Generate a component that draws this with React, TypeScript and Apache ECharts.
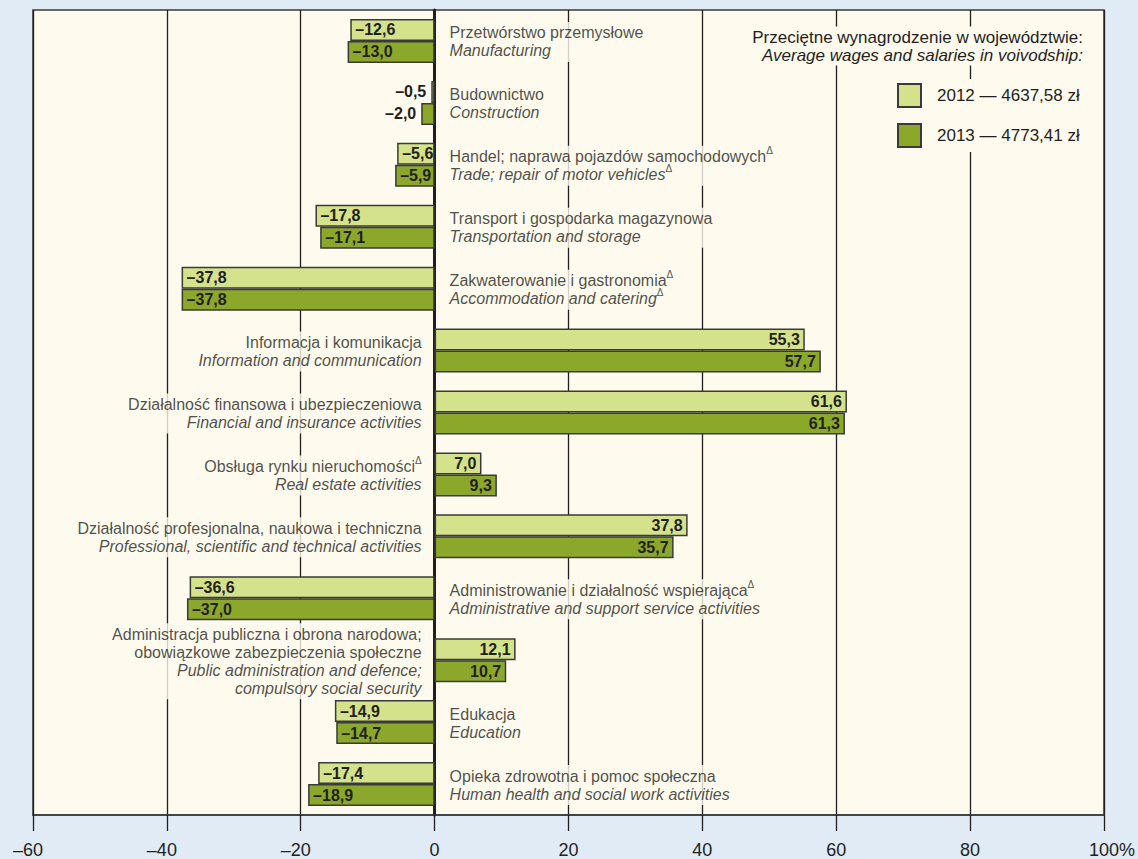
import React, { useEffect, useRef } from "react";
import * as echarts from "echarts";

const seriesNames = ["2012", "2013"];
const avgWages = ["4637,58", "4773,41"];

const labelsPL = [
  "Przetwórstwo przemysłowe",
  "Budownictwo",
  "Handel; naprawa pojazdów samochodowych^",
  "Transport i gospodarka magazynowa",
  "Zakwaterowanie i gastronomia^",
  "Informacja i komunikacja",
  "Działalność finansowa i ubezpieczeniowa",
  "Obsługa rynku nieruchomości^",
  "Działalność profesjonalna, naukowa i techniczna",
  "Administrowanie i działalność wspierająca^",
  "Administracja publiczna i obrona narodowa;\nobowiązkowe zabezpieczenia społeczne",
  "Edukacja",
  "Opieka zdrowotna i pomoc społeczna",
];

const labelsEN = [
  "Manufacturing",
  "Construction",
  "Trade; repair of motor vehicles^",
  "Transportation and storage",
  "Accommodation and catering^",
  "Information and communication",
  "Financial and insurance activities",
  "Real estate activities",
  "Professional, scientific and technical activities",
  "Administrative and support service activities",
  "Public administration and defence;\ncompulsory social security",
  "Education",
  "Human health and social work activities",
];

const values2012 = [-12.6, -0.5, -5.6, -17.8, -37.8, 55.3, 61.6, 7.0, 37.8, -36.6, 12.1, -14.9, -17.4];
const values2013 = [-13.0, -2.0, -5.9, -17.1, -37.8, 57.7, 61.3, 9.3, 35.7, -37.0, 10.7, -14.7, -18.9];

const FONT = "Liberation Sans, Arial, sans-serif";
const TEXT = "#231f20";
const PLOT_BG = "#fefaee";
const OUTER_BG = "#e0ebf6";
const LIGHT = "#d4e38b";
const DARK = "#8ba82b";
const BORDER = "#3a3a3a";

function toRich(s: string, style: string): string {
  return s
    .split("\n")
    .map((line) => {
      const sup = line.endsWith("^");
      const t = sup ? line.slice(0, -1) : line;
      return `{${style}|${t}}` + (sup ? "{sup|Δ}" : "");
    })
    .join("\n");
}

function fmt(v: number): string {
  const s = Math.abs(v).toFixed(1).replace(".", ",");
  return v < 0 ? "–" + s : s;
}

function barData(vals: number[]) {
  return vals.map((v) => ({
    value: v,
    label: {
      position: v < 0 ? (Math.abs(v) < 4 ? "left" : "insideLeft") : "insideRight",
    },
  }));
}

export default function App() {
  const ref = useRef<HTMLDivElement>(null);

  useEffect(() => {
    if (!ref.current) return;
    const chart = echarts.init(ref.current, undefined, { renderer: "svg" });

    const barLabel = {
      show: true,
      formatter: (p: any) => fmt(p.value),
      fontFamily: FONT,
      fontWeight: "bold",
      fontSize: 16,
      color: TEXT,
      distance: 5,
    };

    const axisRich = { fontSize: 18, color: TEXT, fontFamily: FONT };

    const option: any = {
      animation: false,
      backgroundColor: OUTER_BG,
      textStyle: { fontFamily: FONT, color: TEXT },
      title: {
        text:
          "{a|Przeciętne wynagrodzenie w województwie:}\n{b|Average wages and salaries in voivodship:}",
        right: 52,
        top: 26,
        padding: [2, 3],
        backgroundColor: PLOT_BG,
        textStyle: {
          fontWeight: "normal",
          rich: {
            a: { fontSize: 17, lineHeight: 18, align: "right", color: TEXT, fontWeight: "normal", fontFamily: FONT },
            b: { fontSize: 17, lineHeight: 18, align: "right", color: TEXT, fontWeight: "normal", fontStyle: "italic", fontFamily: FONT },
          },
        },
      },
      legend: {
        data: seriesNames,
        orient: "vertical",
        left: 893,
        top: 79,
        padding: 4,
        backgroundColor: PLOT_BG,
        itemWidth: 23,
        itemHeight: 23,
        itemGap: 15,
        icon: "rect",
        selectedMode: false,
        formatter: (name: string) => {
          const i = seriesNames.indexOf(name);
          return `${name} — ${avgWages[i]} zł`;
        },
        textStyle: { fontSize: 17, color: TEXT, fontFamily: FONT, padding: [0, 0, 0, 11] },
      },
      grid: {
        left: 33,
        right: 33,
        top: 10,
        bottom: 43,
        show: true,
        backgroundColor: PLOT_BG,
        borderColor: BORDER,
        borderWidth: 1.5,
        containLabel: false,
      },
      xAxis: {
        type: "value",
        min: -60,
        max: 100,
        interval: 20,
        axisLine: { show: true, onZero: false, lineStyle: { color: BORDER, width: 1.5 } },
        axisTick: { show: true, inside: false, length: 16, lineStyle: { color: TEXT, width: 1.3 } },
        axisLabel: {
          margin: 26,
          color: TEXT,
          fontFamily: FONT,
          fontSize: 18,
          formatter: (v: number) =>
            v === 100 ? "{pct|100%}" : v < 0 ? "{neg|–" + Math.abs(v) + "}" : "{num|" + v + "}",
          rich: {
            num: { ...axisRich },
            neg: { ...axisRich, padding: [0, 10, 0, 0] },
            pct: { ...axisRich, padding: [0, 0, 0, 16] },
          },
        },
        splitLine: { show: true, lineStyle: { color: TEXT, width: 1.3 } },
      },
      yAxis: {
        type: "category",
        inverse: true,
        data: labelsPL,
        axisLine: { show: true, onZero: true, lineStyle: { color: TEXT, width: 3 } },
        axisTick: { show: false },
        axisLabel: { show: false },
        splitLine: { show: false },
      },
      series: [
        {
          name: seriesNames[0],
          type: "bar",
          data: barData(values2012),
          barWidth: 22,
          barGap: "0%",
          itemStyle: { color: LIGHT, borderColor: BORDER, borderWidth: 1.5 },
          label: barLabel,
        },
        {
          name: seriesNames[1],
          type: "bar",
          data: barData(values2013),
          barWidth: 22,
          barGap: "0%",
          itemStyle: { color: DARK, borderColor: BORDER, borderWidth: 1.5 },
          label: barLabel,
        },
        {
          name: "labels",
          type: "scatter",
          silent: true,
          symbolSize: 0,
          z: 5,
          data: labelsPL.map((_, i) => ({
            value: [0, i],
            label: {
              position: values2012[i] < 0 ? "right" : "left",
              distance: values2012[i] < 0 ? 12 : 10,
            },
          })),
          label: {
            show: true,
            backgroundColor: PLOT_BG,
            padding: [2, 3],
            offset: [0, 1],
            color: TEXT,
            formatter: (p: any) =>
              toRich(labelsPL[p.dataIndex], "pl") + "\n" + toRich(labelsEN[p.dataIndex], "en"),
            rich: {
              pl: { fontSize: 16, lineHeight: 18, color: TEXT, fontFamily: FONT },
              en: { fontSize: 16, lineHeight: 18, color: TEXT, fontStyle: "italic", fontFamily: FONT },
              sup: {
                fontSize: 10,
                lineHeight: 10,
                padding: [0, 0, 10, 0],
                verticalAlign: "bottom",
                color: TEXT,
                fontFamily: FONT,
              },
            },
          },
        },
      ],
    };

    chart.setOption(option);
    return () => chart.dispose();
  }, []);

  return (
    <div
      ref={ref}
      style={{ position: "fixed", left: 0, top: 0, width: 1138, height: 859 }}
    />
  );
}
